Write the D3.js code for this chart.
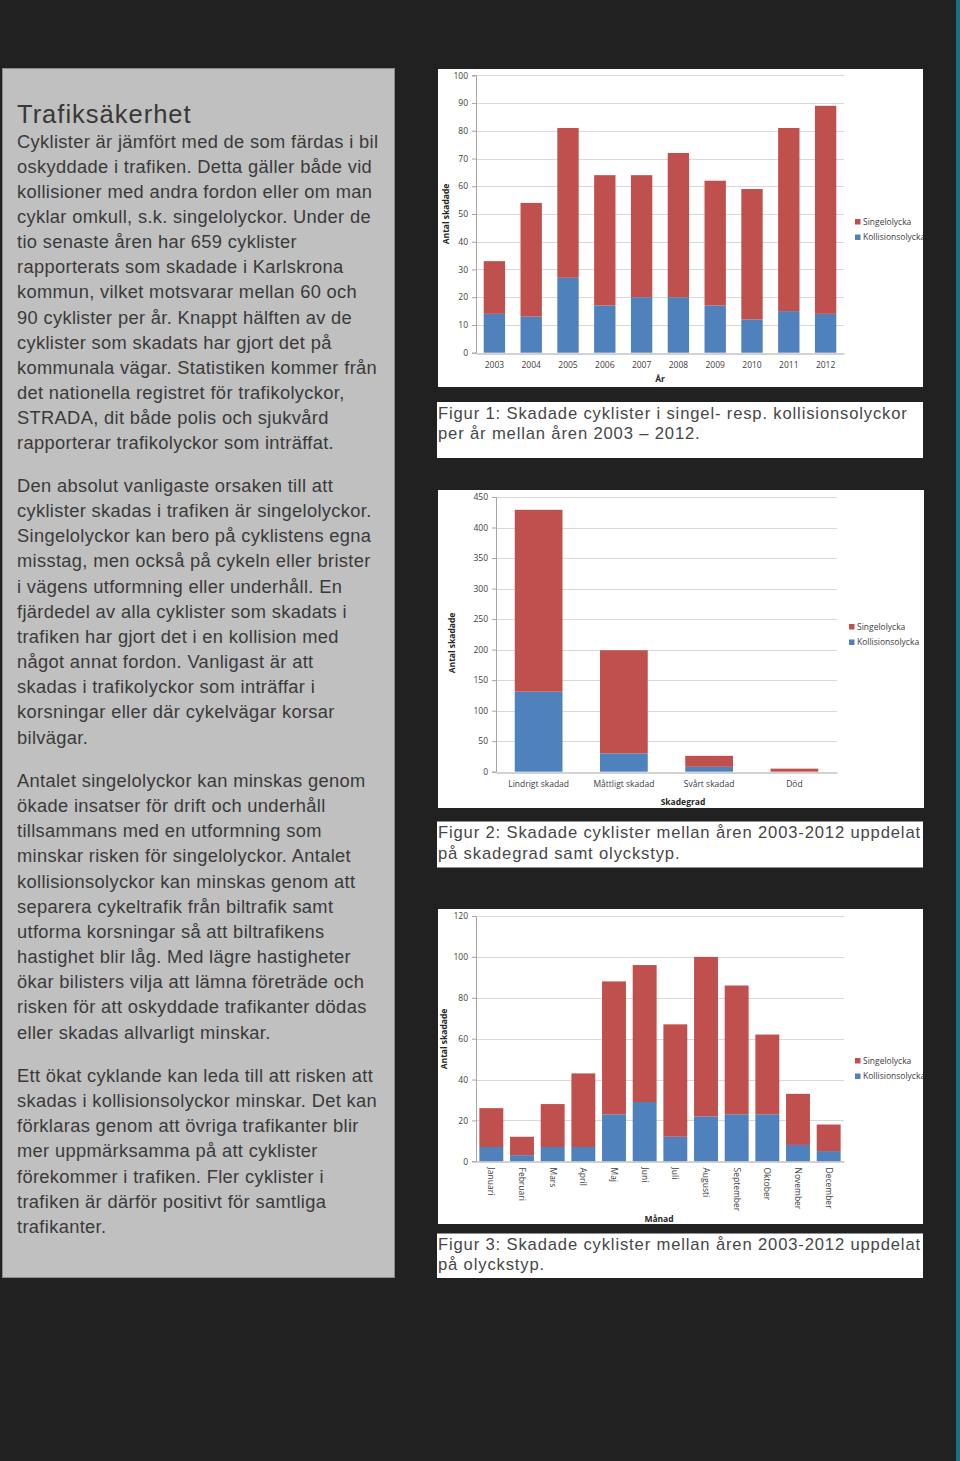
<!DOCTYPE html>
<html><head><meta charset="utf-8">
<script src="https://cdn.jsdelivr.net/npm/d3@7"></script>
<style>body{margin:0;background:#212121;}svg{display:block;}</style>
</head><body>
<script>
// ---------- DATA ----------
const years = ["2003","2004","2005","2006","2007","2008","2009","2010","2011","2012"];
const yearKollision = [14,13,27,17,20,20,17,12,15,14];
const yearSingel   = [19,41,54,47,44,52,45,47,66,75];
const yearTicks = [0,10,20,30,40,50,60,70,80,90,100];

const grades = ["Lindrigt skadad","Måttligt skadad","Svårt skadad","Död"];
const gradeKollision = [131,30,8,0];
const gradeSingel   = [298,169,18,5];
const gradeTicks = [0,50,100,150,200,250,300,350,400,450];

const months = ["Januari","Februari","Mars","April","Maj","Juni","Juli","Augusti","September","Oktober","November","December"];
const monthKollision = [7,3,7,7,23,29,12,22,23,23,8,5];
const monthSingel   = [19,9,21,36,65,67,55,78,63,39,25,13];
const monthTicks = [0,20,40,60,80,100,120];

const seriesNames = ["Singelolycka","Kollisionsolycka"];
const title = "Trafiksäkerhet";
const paragraphs = [
 ["Cyklister är jämfört med de som färdas i bil","oskyddade i trafiken. Detta gäller både vid","kollisioner med andra fordon eller om man","cyklar omkull, s.k. singelolyckor. Under de","tio senaste åren har 659 cyklister","rapporterats som skadade i Karlskrona","kommun, vilket motsvarar mellan 60 och","90 cyklister per år. Knappt hälften av de","cyklister som skadats har gjort det på","kommunala vägar. Statistiken kommer från","det nationella registret för trafikolyckor,","STRADA, dit både polis och sjukvård","rapporterar trafikolyckor som inträffat."],
 ["Den absolut vanligaste orsaken till att","cyklister skadas i trafiken är singelolyckor.","Singelolyckor kan bero på cyklistens egna","misstag, men också på cykeln eller brister","i vägens utformning eller underhåll. En","fjärdedel av alla cyklister som skadats i","trafiken har gjort det i en kollision med","något annat fordon. Vanligast är att","skadas i trafikolyckor som inträffar i","korsningar eller där cykelvägar korsar","bilvägar."],
 ["Antalet singelolyckor kan minskas genom","ökade insatser för drift och underhåll","tillsammans med en utformning som","minskar risken för singelolyckor. Antalet","kollisionsolyckor kan minskas genom att","separera cykeltrafik från biltrafik samt","utforma korsningar så att biltrafikens","hastighet blir låg. Med lägre hastigheter","ökar bilisters vilja att lämna företräde och","risken för att oskyddade trafikanter dödas","eller skadas allvarligt minskar."],
 ["Ett ökat cyklande kan leda till att risken att","skadas i kollisionsolyckor minskar. Det kan","förklaras genom att övriga trafikanter blir","mer uppmärksamma på att cyklister","förekommer i trafiken. Fler cyklister i","trafiken är därför positivt för samtliga","trafikanter."]
];
const captions = [
 ["Figur 1: Skadade cyklister i singel- resp. kollisionsolyckor","per år mellan åren 2003 – 2012."],
 ["Figur 2: Skadade cyklister mellan åren 2003-2012 uppdelat","på skadegrad samt olyckstyp."],
 ["Figur 3: Skadade cyklister mellan åren 2003-2012 uppdelat","på olyckstyp."]
];

// ---------- DRAW ----------
const W = 960, H = 1461;
const svg = d3.select("body").append("svg").attr("width", W).attr("height", H);
svg.append("rect").attr("width", W).attr("height", H).attr("fill", "#212121");
svg.append("rect").attr("x", 956).attr("y", 0).attr("width", 4).attr("height", H).attr("fill", "#17707f");

// left panel
svg.append("rect").attr("x", 2.5).attr("y", 68.5).attr("width", 392).attr("height", 1209)
  .attr("fill", "#c0c0c0").attr("stroke", "#8a8a8a").attr("stroke-width", 1);
svg.append("text").attr("x", 17).attr("y", 123).attr("font-family", "Liberation Sans, Arial, sans-serif")
  .attr("font-size", 25.5).attr("letter-spacing", 1).attr("fill", "#383838").text(title);
const paraStart = [147.5, 492, 787, 1082];
const LH = 25.15;
paragraphs.forEach((p, i) => {
  p.forEach((line, j) => {
    svg.append("text").attr("x", 17).attr("y", paraStart[i] + j * LH)
      .attr("font-family", "Liberation Sans, Arial, sans-serif").attr("font-size", 18.3)
      .attr("letter-spacing", 0.34).attr("fill", "#3a3a3a").text(line);
  });
});

// captions
const capBoxes = [{y:402, h:56, b:419}, {y:821.5, h:46, b:838.3}, {y:1233.5, h:44.5, b:1249.5}];
captions.forEach((c, i) => {
  const cb = capBoxes[i];
  svg.append("rect").attr("x", 437).attr("y", cb.y).attr("width", 486).attr("height", cb.h).attr("fill", "#fff");
  c.forEach((line, j) => {
    svg.append("text").attr("x", 438).attr("y", cb.b + j * 20.3)
      .attr("font-family", "Liberation Sans, Arial, sans-serif").attr("font-size", 16.6)
      .attr("letter-spacing", 0.85).attr("fill", "#474747").text(line);
  });
});

const RED = "#c0504d", BLUE = "#4f81bd";
const FONT = "Open Sans, Liberation Sans, sans-serif";

function chart(cfg) {
  const g = svg.append("g");
  g.append("rect").attr("x", cfg.box[0]).attr("y", cfg.box[1]).attr("width", cfg.box[2]).attr("height", cfg.box[3]).attr("fill", "#fff");
  const clip = "clip" + cfg.id;
  svg.append("clipPath").attr("id", clip).append("rect")
    .attr("x", cfg.box[0]).attr("y", cfg.box[1]).attr("width", cfg.box[2]).attr("height", cfg.box[3]);
  const gc = g.append("g").attr("clip-path", `url(#${clip})`);
  const x = d3.scaleBand().domain(cfg.cats).range([cfg.x0, cfg.x1]).paddingInner(cfg.pad).paddingOuter(cfg.pad / 2);
  const y = d3.scaleLinear().domain([0, cfg.ticks[cfg.ticks.length - 1]]).range([cfg.y0, cfg.yTop]);
  // grid
  gc.append("g").selectAll("line").data(cfg.ticks.slice(1)).join("line")
    .attr("x1", cfg.x0).attr("x2", cfg.x1).attr("y1", d => Math.round(y(d)) + 0.5).attr("y2", d => Math.round(y(d)) + 0.5)
    .attr("stroke", "#d9d9d9").attr("stroke-width", 1);
  // y axis
  const ya = gc.append("g").attr("transform", `translate(${cfg.x0},0)`)
    .call(d3.axisLeft(y).tickValues(cfg.ticks).tickSize(4).tickPadding(4));
  ya.select(".domain").attr("stroke", "#a6a6a6");
  ya.selectAll(".tick line").attr("stroke", "#a6a6a6");
  ya.selectAll("text").attr("font-family", FONT).attr("font-size", 8.5).attr("fill", "#404040");
  // bars
  const stack = cfg.cats.map((c, i) => ({c, k: cfg.kol[i], s: cfg.sing[i]}));
  gc.append("g").selectAll("rect").data(stack).join("rect")
    .attr("x", d => x(d.c)).attr("width", x.bandwidth())
    .attr("y", d => y(d.k)).attr("height", d => y(0) - y(d.k)).attr("fill", BLUE);
  gc.append("g").selectAll("rect").data(stack).join("rect")
    .attr("x", d => x(d.c)).attr("width", x.bandwidth())
    .attr("y", d => y(d.k + d.s)).attr("height", d => y(d.k) - y(d.k + d.s)).attr("fill", RED);
  // x axis
  const xa = gc.append("g").attr("transform", `translate(0,${Math.round(cfg.y0) + 0.5})`)
    .call(d3.axisBottom(x).tickSize(0).tickPadding(cfg.rotate ? 5 : 8));
  xa.select(".domain").attr("stroke", "#a6a6a6");
  xa.selectAll("text").attr("font-family", FONT).attr("font-size", 8.5).attr("fill", "#404040");
  if (cfg.rotate) {
    xa.selectAll("text").attr("transform", "rotate(90)").attr("text-anchor", "start")
      .attr("dy", "0.35em").attr("x", 6).attr("y", 0);
  }
  // axis titles
  gc.append("text").attr("x", cfg.xt[0]).attr("y", cfg.xt[1]).attr("text-anchor", "middle")
    .attr("font-family", FONT).attr("font-size", 8.5).attr("font-weight", "bold").attr("fill", "#262626").text(cfg.xtitle);
  gc.append("text").attr("transform", `translate(${cfg.yt[0]},${cfg.yt[1]}) rotate(-90)`).attr("text-anchor", "middle")
    .attr("font-family", FONT).attr("font-size", 8.5).attr("font-weight", "bold").attr("fill", "#262626").text("Antal skadade");
  // legend
  const lg = gc.append("g").selectAll("g").data(seriesNames).join("g")
    .attr("transform", (d, i) => `translate(${cfg.leg[0]},${cfg.leg[1] + i * 15.5})`);
  lg.append("rect").attr("x", 0).attr("y", -3).attr("width", 5.5).attr("height", 5.5).attr("fill", (d, i) => i ? BLUE : RED);
  lg.append("text").attr("x", 8).attr("y", 0).attr("dy", "0.35em").attr("font-family", FONT).attr("font-size", 8.5)
    .attr("fill", "#404040").text(d => d);
}

chart({id:1, box:[438,69,485,318], cats:years, kol:yearKollision, sing:yearSingel, ticks:yearTicks,
  x0:476, x1:844, y0:352.7, yTop:75.3, pad:0.42, xtitle:"År", xt:[660,382], yt:[449,214], leg:[855,222]});
chart({id:2, box:[438,490,486,318], cats:grades, kol:gradeKollision, sing:gradeSingel, ticks:gradeTicks,
  x0:496, x1:837, y0:771.7, yTop:497, pad:0.44, xtitle:"Skadegrad", xt:[683,805], yt:[455,643], leg:[849,627]});
chart({id:3, box:[438,909,485,315], cats:months, kol:monthKollision, sing:monthSingel, ticks:monthTicks,
  x0:476, x1:844, y0:1161.3, yTop:916, pad:0.22, rotate:true, xtitle:"Månad", xt:[659,1222], yt:[447,1039], leg:[855,1061]});
</script>
</body></html>
